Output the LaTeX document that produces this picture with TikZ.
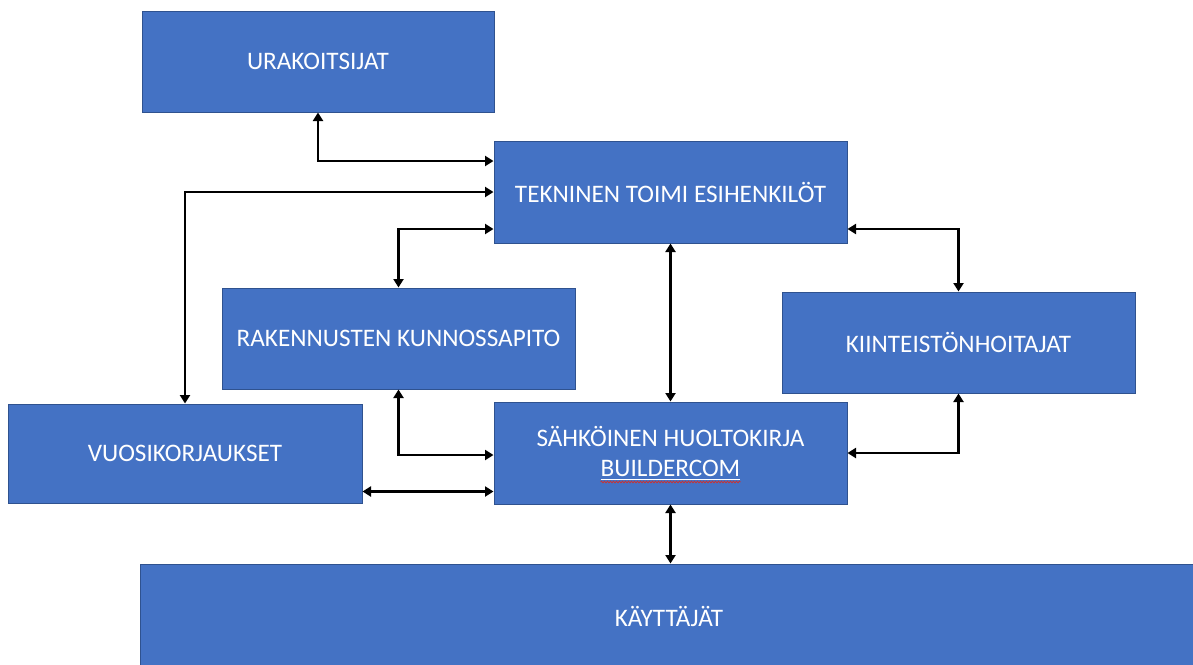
\documentclass[tikz,border=0pt]{standalone}
\usepackage{fontspec}
\setmainfont{Carlito}
\usetikzlibrary{arrows.meta,decorations.pathmorphing}
\definecolor{boxfill}{HTML}{4472C4}
\definecolor{boxline}{HTML}{2F528F}
\definecolor{spellred}{HTML}{D0302C}
\tikzset{
  box/.style={draw=boxline, line width=1pt, fill=boxfill, text=white,
    inner sep=0pt, font=\fontsize{25.2}{30}\selectfont},
  lbl/.style={text=white, inner sep=0pt, font=\fontsize{25.2}{30}\selectfont},
  link/.style={line width=2.7pt, draw=black,
    {Triangle[length=8.5pt,width=10pt]}-{Triangle[length=8.5pt,width=10pt]}},
}
\begin{document}
\begin{tikzpicture}[x=1pt,y=-1pt]
\useasboundingbox (0,0) rectangle (1193,664);
\fill[white] (0,0) rectangle (1193,664);

% boxes
\node[box, minimum width=352pt, minimum height=101pt] (ura) at (318,61.5) {URAKOITSIJAT};
\node[box, minimum width=353pt, minimum height=102pt] (tek) at (670.5,192) {TEKNINEN TOIMI ESIHENKILÖT};
\node[box, minimum width=353pt, minimum height=101pt] (rak) at (398.5,338.5) {RAKENNUSTEN KUNNOSSAPITO};
\node[box, minimum width=353pt, minimum height=101pt] (kii) at (958.5,342.5) {KIINTEISTÖNHOITAJAT};
\node[box, minimum width=354pt, minimum height=99pt] (vuo) at (185,453.5) {VUOSIKORJAUKSET};
\node[box, minimum width=353pt, minimum height=102pt] (sah) at (670.5,453) {};
\node[box, minimum width=1058pt, minimum height=104pt] (kay) at (669,616) {KÄYTTÄJÄT};

% two-line label of the service book box
\node[lbl, anchor=base] (sah1) at (670.5,446) {SÄHKÖINEN HUOLTOKIRJA};
\node[lbl, anchor=base] (sah2) at (670.5,476) {BUILDERCOM};
\draw[white, line width=1pt] ([yshift=-3pt]sah2.base west) -- ([yshift=-3pt]sah2.base east);
\draw[spellred, line width=0.7pt, decorate,
  decoration={snake, amplitude=0.9pt, segment length=3pt}]
  ([yshift=-6pt]sah2.base west) -- ([yshift=-6pt]sah2.base east);

% connectors
\draw[link] (ura.south) |- ([yshift=31pt]tek.west);
\draw[link] (tek.west) -| (vuo.north);
\draw[link] ([yshift=-37pt]tek.west) -| (rak.north);
\draw[link] (tek.south) -- (sah.north);
\draw[link] ([yshift=-37pt]tek.east) -| (kii.north);
\draw[link] (rak.south) |- ([yshift=-2pt]sah.west);
\draw[link] ([yshift=-38pt]vuo.east) -- ([yshift=-38pt]vuo.east -| sah.west);
\draw[link] (kii.south) |- (sah.east);
\draw[link] (sah.south) -- (sah.south |- kay.north);
\end{tikzpicture}
\end{document}
